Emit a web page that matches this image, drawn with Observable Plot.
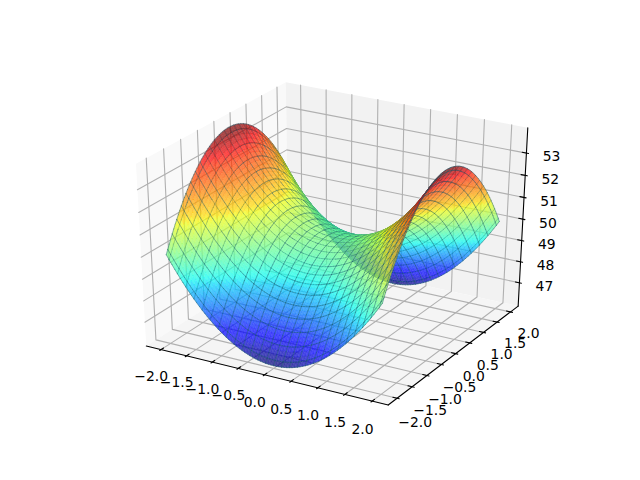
<!DOCTYPE html>
<html><head><meta charset="utf-8">
<style>html,body{margin:0;padding:0;background:#fff}svg{display:block}</style>
<script src="https://cdn.jsdelivr.net/npm/d3@7"></script>
<script src="https://cdn.jsdelivr.net/npm/@observablehq/plot@0.6"></script>
</head><body><div id="c"></div>
<script>
const xGrid=[-2,-1.95,-1.9,-1.85,-1.8,-1.75,-1.7,-1.65,-1.6,-1.55,-1.5,-1.45,-1.4,-1.35,-1.3,-1.25,-1.2,-1.15,-1.1,-1.05,-1,-0.95,-0.9,-0.85,-0.8,-0.75,-0.7,-0.65,-0.6,-0.55,-0.5,-0.45,-0.4,-0.35,-0.3,-0.25,-0.2,-0.15,-0.1,-0.05,0,0.05,0.1,0.15,0.2,0.25,0.3,0.35,0.4,0.45,0.5,0.55,0.6,0.65,0.7,0.75,0.8,0.85,0.9,0.95,1,1.05,1.1,1.15,1.2,1.25,1.3,1.35,1.4,1.45,1.5,1.55,1.6,1.65,1.7,1.75,1.8,1.85,1.9,1.95,2];
const yGrid=xGrid;
// height read along a ridge (x direction) and along a valley (y direction), relative to level 50
const ridge=[4,3.8,3.61,3.42,3.24,3.06,2.89,2.72,2.56,2.4,2.25,2.1,1.96,1.82,1.69,1.56,1.44,1.32,1.21,1.1,1,0.9,0.81,0.72,0.64,0.56,0.49,0.42,0.36,0.3,0.25,0.2,0.16,0.12,0.09,0.06,0.04,0.02,0.01,0,0,0,0.01,0.02,0.04,0.06,0.09,0.12,0.16,0.2,0.25,0.3,0.36,0.42,0.49,0.56,0.64,0.72,0.81,0.9,1,1.1,1.21,1.32,1.44,1.56,1.69,1.82,1.96,2.1,2.25,2.4,2.56,2.72,2.89,3.06,3.24,3.42,3.61,3.8,4];
const valley=[-4,-3.8,-3.61,-3.42,-3.24,-3.06,-2.89,-2.72,-2.56,-2.4,-2.25,-2.1,-1.96,-1.82,-1.69,-1.56,-1.44,-1.32,-1.21,-1.1,-1,-0.9,-0.81,-0.72,-0.64,-0.56,-0.49,-0.42,-0.36,-0.3,-0.25,-0.2,-0.16,-0.12,-0.09,-0.06,-0.04,-0.02,-0.01,0,0,0,-0.01,-0.02,-0.04,-0.06,-0.09,-0.12,-0.16,-0.2,-0.25,-0.3,-0.36,-0.42,-0.49,-0.56,-0.64,-0.72,-0.81,-0.9,-1,-1.1,-1.21,-1.32,-1.44,-1.56,-1.69,-1.82,-1.96,-2.1,-2.25,-2.4,-2.56,-2.72,-2.89,-3.06,-3.24,-3.42,-3.61,-3.8,-4];
const baseLevel=50;
const xTicks=[-2,-1.5,-1,-0.5,0,0.5,1,1.5,2];
const yTicks=xTicks;
const zTicks=[47,48,49,50,51,52,53];
const xyLabels=["−2.0","−1.5","−1.0","−0.5","0.0","0.5","1.0","1.5","2.0"];
const zLabels=["47","48","49","50","51","52","53"];
const xLim=[-2.2,2.2],yLim=[-2.2,2.2],zLim=[46.04,53.96];
const jetStops=[0,.11,.125,.34,.35,.375,.64,.65,.66,.89,.91,1];
const jetColors=["#000080","#0000ff","#0000ff","#00d4ff","#00e5f7","#0dfff0","#f0ff0f","#f9f000","#ffe000","#ff2000","#ff0000","#800000"];
const latticeEvery=3,chunks=80;

// matplotlib view: elev 30, azim -60, dist 10, unit cube stretched to the axes rectangle
const az=-60*Math.PI/180,el=30*Math.PI/180,dist=10;
const box=[1,1,1],R=box.map(b=>b/2);
const dir=[Math.cos(el)*Math.cos(az),Math.cos(el)*Math.sin(az),Math.sin(el)];
const eye=R.map((r,i)=>r+dist*dir[i]);
const w=dir;
const cross=(a,b)=>[a[1]*b[2]-a[2]*b[1],a[2]*b[0]-a[0]*b[2],a[0]*b[1]-a[1]*b[0]];
const unit=a=>{const n=Math.hypot(...a);return a.map(v=>v/n)};
const u=unit(cross([0,0,1],w)),v=cross(w,u);
const dot=(a,b)=>a[0]*b[0]+a[1]*b[1]+a[2]*b[2];
function proj(x,y,z){
  const p=[(x-xLim[0])/(xLim[1]-xLim[0])*box[0],(y-yLim[0])/(yLim[1]-yLim[0])*box[1],(z-zLim[0])/(zLim[1]-zLim[0])*box[2]];
  const d=p.map((c,i)=>c-eye[i]);
  const s=-dot(d,w);
  return {px:dot(d,u)/s,py:dot(d,v)/s,depth:s};
}
const dx=(xLim[1]-xLim[0])/48,dy=(yLim[1]-yLim[0])/48,dz=(zLim[1]-zLim[0])/48;
const X0=xLim[0]-dx,X1=xLim[1]+dx,Y0=yLim[0]-dy,Y1=yLim[1]+dy,Z0=zLim[0]-dz,Z1=zLim[1]+dz;
const tx=(X1-X0)/12,ty=(Y1-Y0)/12;

function poly(id,pts,extra={}){return pts.map(p=>({id,...proj(...p),...extra}))}
const panes=[
 ...poly(0,[[X0,Y0,Z0],[X0,Y1,Z0],[X0,Y1,Z1],[X0,Y0,Z1]],{f:"#f9f9f9"}),
 ...poly(1,[[X0,Y1,Z0],[X1,Y1,Z0],[X1,Y1,Z1],[X0,Y1,Z1]],{f:"#f2f2f2"}),
 ...poly(2,[[X0,Y0,Z0],[X1,Y0,Z0],[X1,Y1,Z0],[X0,Y1,Z0]],{f:"#f5f5f5"})
];
let gid=0;const grid=[];
for(const t of xTicks){grid.push(...poly(gid++,[[t,Y0,Z0],[t,Y1,Z0],[t,Y1,Z1]]))}
for(const t of yTicks){grid.push(...poly(gid++,[[X1,t,Z0],[X0,t,Z0],[X0,t,Z1]]))}
for(const t of zTicks){grid.push(...poly(gid++,[[X0,Y0,t],[X0,Y1,t],[X1,Y1,t]]))}
let aid=0;const axes=[];
axes.push(...poly(aid++,[[X0,Y0,Z0],[X1,Y0,Z0]]));
axes.push(...poly(aid++,[[X1,Y0,Z0],[X1,Y1,Z0]]));
axes.push(...poly(aid++,[[X1,Y1,Z0],[X1,Y1,Z1]]));
const tickMarks=[];let tid=0;
for(const t of xTicks)tickMarks.push(...poly(tid++,[[t,Y0+.2*ty,Z0],[t,Y0-.1*ty,Z0]]));
for(const t of yTicks)tickMarks.push(...poly(tid++,[[X1-.2*tx,t,Z0],[X1+.1*tx,t,Z0]]));
for(const t of zTicks)tickMarks.push(...poly(tid++,[[X1-.2*tx,Y1,t],[X1+.1*tx,Y1,t]]));
// one pixel in the y domain; labels drift slightly along each axis
const pxY=0.185/369.6;
const shift=(p,t,a,b)=>({...p,py:p.py-(a+(t+2)/4*b)*pxY});
const xLab=xTicks.map((t,i)=>({...shift(proj(t,Y0-.1*ty,Z0),t,2,1.5),s:xyLabels[i]}));
const yLab=yTicks.map((t,i)=>({...shift(proj(X1+.1*tx,t,Z0),t,0,-3),s:xyLabels[i]}));
const zLab=zTicks.map((t,i)=>({...proj(X1+.1*tx,Y1,t),s:zLabels[i]}));

const nx=xGrid.length-1,ny=yGrid.length-1;
const hgt=(a,b)=>baseLevel+ridge[a]+valley[b];
const P=(a,b)=>proj(xGrid[a],yGrid[b],hgt(a,b));
const cells=[];
for(let i=0;i<nx;i++)for(let j=0;j<ny;j++){
  const c=[[i,j],[i+1,j],[i+1,j+1],[i,j+1]];
  const ps=c.map(([a,b])=>P(a,b));
  cells.push({i,j,ps,depth:d3.mean(ps,p=>p.depth),val:d3.mean(c,([a,b])=>hgt(a,b))});
}
cells.sort((a,b)=>b.depth-a.depth);
const zMin=d3.min(cells,c=>c.val),zMax=d3.max(cells,c=>c.val);
const isLat=k=>k%latticeEvery===1||k===0;
const blocks=[];
const per=Math.ceil(cells.length/chunks);
for(let b=0;b<chunks;b++){
  const part=cells.slice(b*per,(b+1)*per);
  const fills=[],lats=[];
  part.forEach((c,id)=>{
    c.ps.forEach(p=>fills.push({id,px:p.px,py:p.py,val:c.val}));
    if(isLat(c.i)){lats.push({id:id+"a",...c.ps[0]},{id:id+"a",...c.ps[3]})}
    if(c.i===nx-1){lats.push({id:id+"b",...c.ps[1]},{id:id+"b",...c.ps[2]})}
    if(isLat(c.j)){lats.push({id:id+"c",...c.ps[0]},{id:id+"c",...c.ps[1]})}
    if(c.j===ny-1){lats.push({id:id+"d",...c.ps[3]},{id:id+"d",...c.ps[2]})}
  });
  blocks.push(
    Plot.line(fills,{x:"px",y:"py",z:"id",fill:"val",fillOpacity:.7,curve:"linear-closed",stroke:"val",strokeOpacity:.35,strokeWidth:.4}),
    Plot.line(lats,{x:"px",y:"py",z:"id",stroke:"#1f5f6f",strokeOpacity:.55,strokeWidth:.85})
  );
}

const chart=Plot.plot({
  width:640,height:480,margin:0,
  x:{domain:[-0.095,0.09],range:[80,576],axis:null},
  y:{domain:[-0.095,0.09],range:[427.2,57.6],axis:null},
  color:{type:"linear",domain:jetStops.map(s=>zMin+s*(zMax-zMin)),range:jetColors,interpolate:"rgb"},
  style:{background:"#fff",fontFamily:"DejaVu Sans"},
  marks:[
    Plot.line(panes,{x:"px",y:"py",z:"id",fill:d=>d.f,curve:"linear-closed",stroke:"none"}),
    Plot.line(grid,{x:"px",y:"py",z:"id",stroke:"#b0b0b0",strokeWidth:1.1}),
    Plot.line(axes,{x:"px",y:"py",z:"id",stroke:"#000",strokeWidth:1.1}),
    Plot.line(tickMarks,{x:"px",y:"py",z:"id",stroke:"#000",strokeWidth:1.1}),
    ...blocks,
    Plot.text(xLab,{x:"px",y:"py",text:"s",dx:-8.5,dy:24,fontSize:13.9,fill:"#000"}),
    Plot.text(yLab,{x:"px",y:"py",text:"s",dx:16,dy:24,fontSize:13.9,fill:"#000"}),
    Plot.text(zLab,{x:"px",y:"py",text:"s",dx:23,dy:3.5,fontSize:13.9,fill:"#000"})
  ]
});
document.getElementById("c").append(chart);
</script></body></html>
